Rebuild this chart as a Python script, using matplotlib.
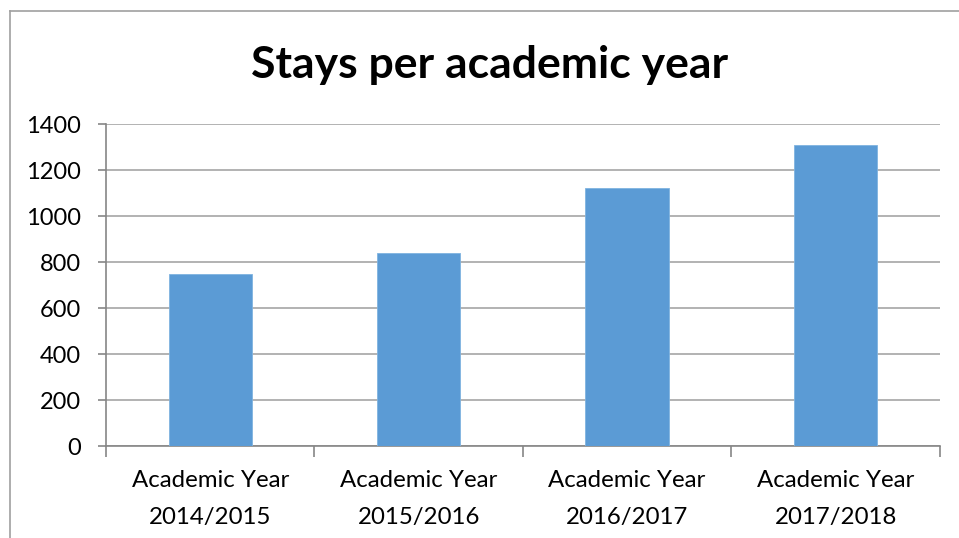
import matplotlib.pyplot as plt
from matplotlib.lines import Line2D

years = ["Academic Year\n2014/2015", "Academic Year\n2015/2016",
         "Academic Year\n2016/2017", "Academic Year\n2017/2018"]
stays = [750, 840, 1120, 1310]
y_ticks = [0, 200, 400, 600, 800, 1000, 1200, 1400]

plt.rcParams['font.family'] = ['Lato', 'DejaVu Sans']

fig = plt.figure(figsize=(9.59, 5.38), dpi=100)
ax = fig.add_axes([0.1105, 0.171, 0.8695, 0.5985])

x = list(range(len(years)))
ax.bar(x, stays, width=0.4, color="#5B9BD5", edgecolor="#7FB3E0", linewidth=0.6, zorder=3)

ax.set_xlim(-0.5, len(years) - 0.5)
ax.set_ylim(0, 1400)
ax.set_yticks(y_ticks)
ax.set_yticklabels([str(v) for v in y_ticks], fontsize=17)
ax.yaxis.grid(True, color="#A6A6A6", linewidth=1.2, zorder=0)

# category labels sit between the boundary ticks
ax.set_xticks(x)
ax.set_xticklabels(years, fontsize=17.3, linespacing=1.95)
ax.tick_params(axis="x", length=0, pad=17)
ax.set_xticks([i - 0.5 for i in range(len(years) + 1)], minor=True)
ax.tick_params(axis="x", which="minor", length=8, color="#868686", width=1.2)
ax.tick_params(axis="y", length=6, color="#868686", width=1.2, pad=12)

for side in ["top", "right"]:
    ax.spines[side].set_visible(False)
for side in ["left", "bottom"]:
    ax.spines[side].set_color("#868686")
    ax.spines[side].set_linewidth(1.2)

fig.text(0.511, 0.88, "Stays per academic year", ha="center", va="center",
         fontsize=32, fontweight="bold")

# chart-area frame (top and left edges)
fig.add_artist(Line2D([10 / 959, 1.0], [1 - 11 / 538, 1 - 11 / 538],
                      color="#A0A0A0", linewidth=1.2))
fig.add_artist(Line2D([10 / 959, 10 / 959], [0.0, 1 - 11 / 538],
                      color="#A0A0A0", linewidth=1.2))

fig.savefig("out.png", dpi=100)
